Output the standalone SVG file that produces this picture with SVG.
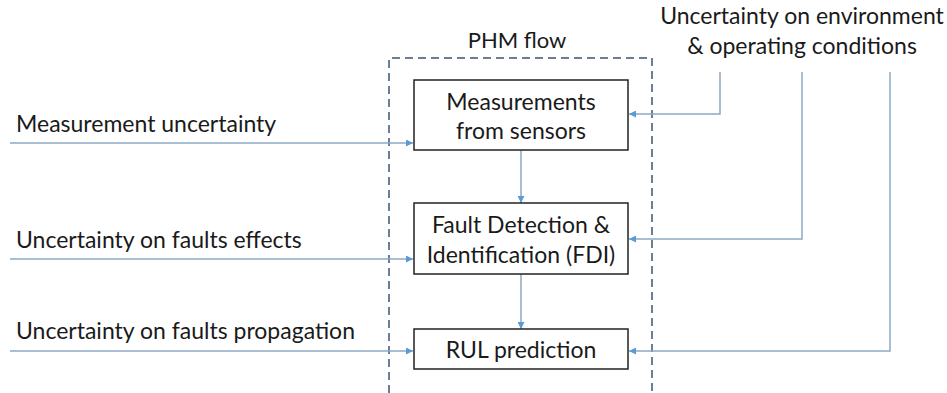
<svg xmlns="http://www.w3.org/2000/svg" width="947" height="393" viewBox="0 0 947 393">
<defs>
<marker id="ah" viewBox="0 0 10 10" refX="10" refY="5" markerWidth="7" markerHeight="7" markerUnits="userSpaceOnUse" orient="auto"><path d="M0,0 L10,5 L0,10 z" fill="#5b9bd5"/></marker>
<style>
text{font-family:Lato,"Open Sans","Liberation Sans",sans-serif;fill:#1a1a1a;font-size:23px}
.c{text-anchor:middle}
.box{fill:#fff;stroke:#222;stroke-width:1.5}
.cn{fill:none;stroke:#8ea9c4;stroke-width:1.5}
.ar{marker-end:url(#ah)}
.dash{fill:none;stroke:#6a7f95;stroke-width:2;stroke-dasharray:8,5}
</style>
</defs>
<rect width="947" height="393" fill="#fff"/>
<g id="phm-flow">
<path class="dash" d="M389,393 V58 H652 V393"/>
<text class="c" x="517" y="48" style="font-size:22px">PHM flow</text>
</g>
<g id="connectors">
<path class="cn ar" d="M10,143 H413"/>
<path class="cn ar" d="M10,259 H413"/>
<path class="cn ar" d="M10,351 H413"/>
<path class="cn ar" d="M720,72 V114 H629"/>
<path class="cn ar" d="M802,72 V239 H629"/>
<path class="cn ar" d="M890,72 V351 H629"/>
<path class="cn ar" d="M521,150 V203"/>
<path class="cn ar" d="M521,274 V329"/>
</g>
<g id="measurements">
<rect class="box" x="414" y="80" width="214" height="70"/>
<text class="c" x="521" y="110">Measurements</text>
<text class="c" x="521" y="139">from sensors</text>
</g>
<g id="fdi">
<rect class="box" x="414" y="203" width="214" height="71"/>
<text class="c" x="521" y="233">Fault Detection &amp;</text>
<text class="c" x="521" y="263">Identification (FDI)</text>
</g>
<g id="rul">
<rect class="box" x="414" y="329" width="214" height="40"/>
<text class="c" x="521" y="358">RUL prediction</text>
</g>
<g id="env">
<text class="c" x="802" y="24">Uncertainty on environment</text>
<text class="c" x="802" y="54">&amp; operating conditions</text>
</g>
<g id="labels">
<text x="16" y="132">Measurement uncertainty</text>
<text x="16" y="248">Uncertainty on faults effects</text>
<text x="16" y="339">Uncertainty on faults propagation</text>
</g>
</svg>
